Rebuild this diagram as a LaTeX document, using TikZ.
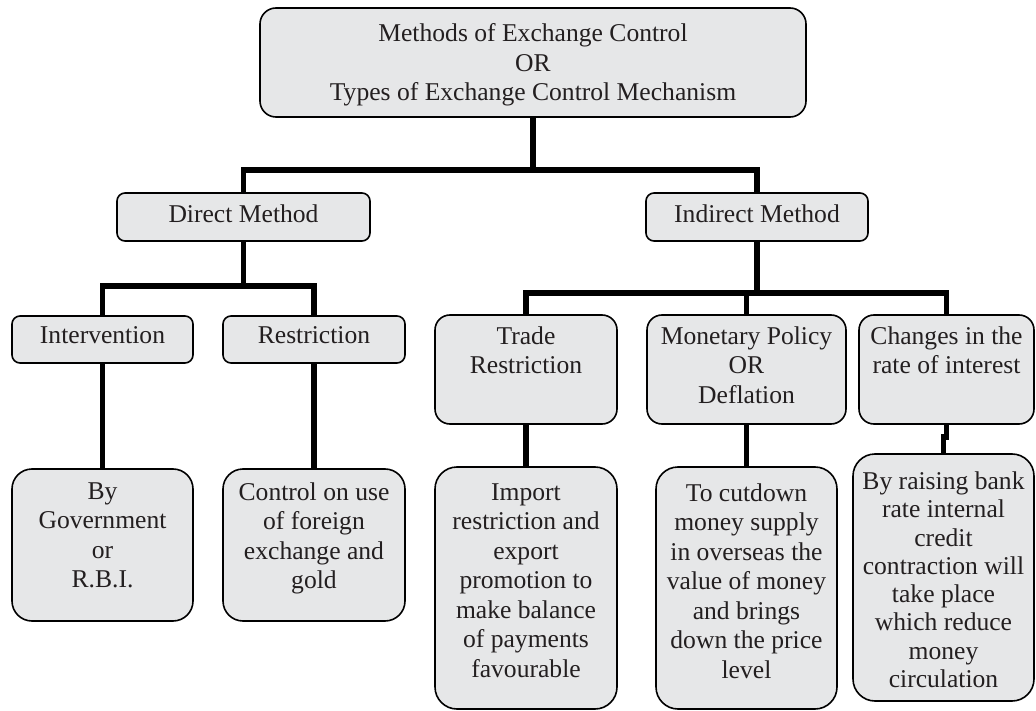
\documentclass[tikz,border=0pt]{standalone}
\usepackage{fontspec}
\setmainfont{Liberation Serif}
\definecolor{boxgray}{RGB}{230,231,232}
\definecolor{txtcol}{RGB}{35,31,32}
\tikzset{
  box/.style={draw=black, line width=1.6pt, fill=boxgray, inner sep=0pt, outer sep=0pt},
  txt/.style={align=center, inner sep=0pt, anchor=north, text=txtcol,
    font=\fontsize{25.6}{29.5}\selectfont},
  conn/.style={draw=black, line width=5.5pt, line join=miter}
}
\begin{document}
\begin{tikzpicture}[x=1pt, y=-1pt]
\useasboundingbox (0,0) rectangle (1036,711);
% boxes
\node[box, minimum width=546pt, minimum height=109pt, rounded corners=16pt] (top) at (533,62.5) {};
\node[box, minimum width=253pt, minimum height=48pt, rounded corners=8pt] (direct) at (243.5,217) {};
\node[box, minimum width=222pt, minimum height=48pt, rounded corners=8pt] (indirect) at (757,217) {};
\node[box, minimum width=181pt, minimum height=47pt, rounded corners=8pt] (interv) at (102.5,339.5) {};
\node[box, minimum width=182pt, minimum height=47pt, rounded corners=8pt] (restr) at (314,339.5) {};
\node[box, minimum width=182pt, minimum height=109pt, rounded corners=15pt] (trade) at (526,369.5) {};
\node[box, minimum width=199pt, minimum height=109pt, rounded corners=15pt] (monet) at (746.5,369.5) {};
\node[box, minimum width=175pt, minimum height=109pt, rounded corners=15pt] (chg) at (946.5,369.5) {};
\node[box, minimum width=181pt, minimum height=152pt, rounded corners=20pt] (gov) at (102.5,545) {};
\node[box, minimum width=182pt, minimum height=152pt, rounded corners=20pt] (ctrl) at (314,545) {};
\node[box, minimum width=182pt, minimum height=242pt, rounded corners=22pt] (imp) at (526,588) {};
\node[box, minimum width=181pt, minimum height=242pt, rounded corners=22pt] (cut) at (746.5,588) {};
\node[box, minimum width=181pt, minimum height=247pt, rounded corners=22pt] (raise) at (943.5,577.5) {};
% texts
\node[txt] (top-t) at (533,23.5) {Methods of Exchange Control\\OR\\Types of Exchange Control Mechanism};
\node[txt] (direct-t) at (243.5,204.5) {Direct Method};
\node[txt] (indirect-t) at (757,204.5) {Indirect Method};
\node[txt] (interv-t) at (102.5,326.5) {Intervention};
\node[txt] (restr-t) at (314,326.5) {Restriction};
\node[txt] (trade-t) at (526,326.5) {Trade\\Restriction};
\node[txt] (monet-t) at (746.5,326.5) {Monetary Policy\\OR\\Deflation};
\node[txt] (chg-t) at (946.5,326.5) {Changes in the\\rate of interest};
\node[txt] (gov-t) at (102.5,482.5) {By\\Government\\or\\R.B.I.};
\node[txt] (ctrl-t) at (314,482.5) {Control on use\\of foreign\\exchange and\\gold};
\node[txt] (imp-t) at (526,483.5) {Import\\restriction and\\export\\promotion to\\make balance\\of payments\\favourable};
\node[txt] (cut-t) at (746.5,483.5) {To cutdown\\money supply\\in overseas the\\value of money\\and brings\\down the price\\level};
\node[txt, font=\fontsize{25.6}{28.3}\selectfont] (raise-t) at (943.5,471.5) {By raising bank\\rate internal\\credit\\contraction will\\take place\\which reduce\\money\\circulation};
% junction coordinates
\coordinate (hA) at (533,170);
\coordinate (hB) at (243.5,286);
\coordinate (hC) at (757,293);
% connectors
\draw[conn] (top.south) -- (hA);
\draw[conn] (direct.north) |- (hA) -| (indirect.north);
\draw[conn] (direct.south) -- (hB);
\draw[conn] (interv.north) |- (hB) -| (restr.north);
\draw[conn] (indirect.south) -- (hC);
\draw[conn] (trade.north) |- (hC) -| (chg.north);
\draw[conn] (monet.north) -- (monet.north |- hC);
\draw[conn] (interv.south) -- (gov.north);
\draw[conn] (restr.south) -- (ctrl.north);
\draw[conn] (trade.south) -- (imp.north);
\draw[conn] (monet.south) -- (cut.north);
\draw[conn] (chg.south) -- ++(0,13) -| (raise.north);
\end{tikzpicture}
\end{document}
